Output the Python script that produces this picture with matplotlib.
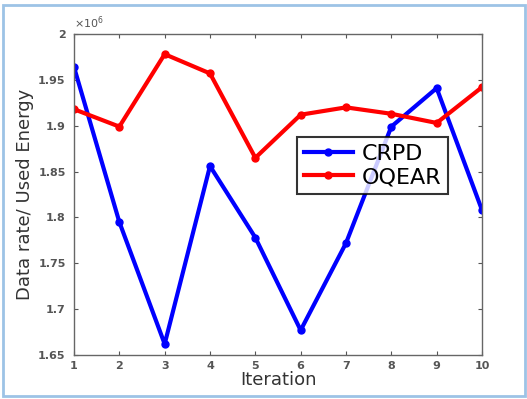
import matplotlib
matplotlib.use("Agg")
import matplotlib.pyplot as plt
from matplotlib.patches import Rectangle

# values, in units of 1e6
iterations = [1, 2, 3, 4, 5, 6, 7, 8, 9, 10]
crpd = [1.964, 1.795, 1.662, 1.856, 1.778, 1.677, 1.772, 1.899, 1.941, 1.808]
oqear = [1.918, 1.899, 1.978, 1.957, 1.865, 1.912, 1.920, 1.913, 1.903, 1.942]
y_ticks = [1.65, 1.7, 1.75, 1.8, 1.85, 1.9, 1.95, 2.0]
y_labels = ["1.65", "1.7", "1.75", "1.8", "1.85", "1.9", "1.95", "2"]

fig = plt.figure(figsize=(5.27, 3.99), dpi=100)
fig.patch.set_facecolor("white")
# light blue frame around the whole picture
fig.patches.append(Rectangle((0.006, 0.008), 0.99, 0.98, transform=fig.transFigure,
                             fill=False, edgecolor="#9dc3e6", linewidth=2))

ax = fig.add_axes([74 / 527, 1 - 355 / 399, (482 - 74) / 527, (355 - 34) / 399])

ax.plot(iterations, crpd, color="blue", lw=3, marker="o", ms=5, label="CRPD")
ax.plot(iterations, oqear, color="red", lw=3, marker="o", ms=5, label="OQEAR")

ax.set_xlim(1, 10)
ax.set_ylim(1.65, 2.0)
ax.set_xticks(iterations)
ax.set_yticks(y_ticks)
ax.set_yticklabels(y_labels)
ax.tick_params(direction="in", length=3, top=True, right=True, colors="#555555",
               labelsize=8)
ax.tick_params(axis="x", pad=4)
ax.tick_params(axis="y", pad=6)
for lbl in ax.get_xticklabels() + ax.get_yticklabels():
    lbl.set_fontweight("bold")
for s in ax.spines.values():
    s.set_color("#666666")
    s.set_linewidth(1)

ax.text(0.0, 1.01, r"$\times10^6$", transform=ax.transAxes, fontsize=8,
        color="#555555", ha="left", va="bottom")

ax.set_xlabel("Iteration", fontsize=13, color="#333333", labelpad=0)
ax.set_ylabel("Data rate/ Used Energy", fontsize=13, color="#333333", labelpad=3)

leg = ax.legend(loc="upper left", bbox_to_anchor=((297 - 74) / 408, 1 - (137 - 34) / 321),
                fontsize=16, frameon=True, fancybox=False, edgecolor="black",
                borderpad=0.3, handlelength=2.2, handletextpad=0.4, labelspacing=0.15,
                borderaxespad=0)
leg.get_frame().set_linewidth(1.5)

fig.savefig("out.png", dpi=100)
